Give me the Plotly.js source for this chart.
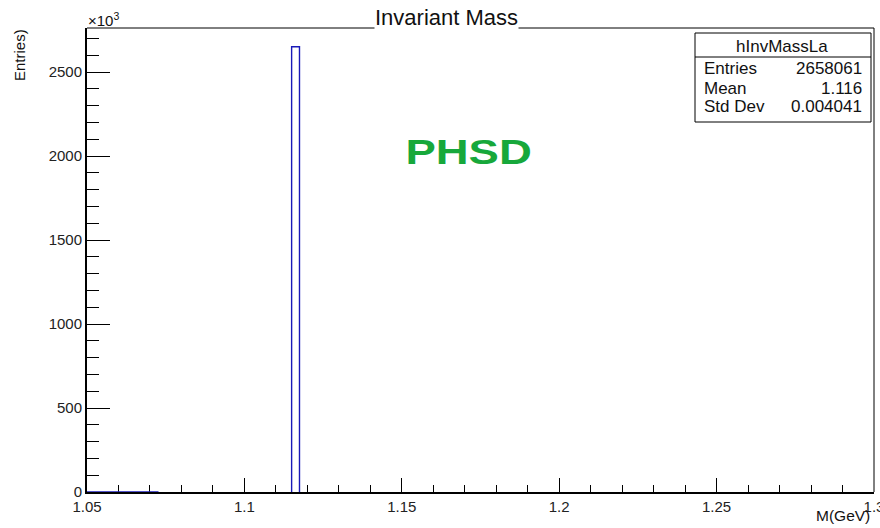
<!DOCTYPE html>
<html>
<head>
<meta charset="utf-8">
<script src="https://cdn.plot.ly/plotly-3.0.1.min.js"></script>
<style>
html,body{margin:0;padding:0;background:#fff;}
#chart{width:880px;height:528px;}
g.annotation[data-index="4"] text.annotation-text{transform-box:fill-box;transform-origin:center;transform:scaleX(1.3);}
</style>
</head>
<body>
<div id="chart"></div>
<script>
// ---- data (counts in units of 10^3 entries) ----
const binWidth = 0.0025;
const binLow = [1.05, 1.0525, 1.055, 1.0575, 1.06, 1.0625, 1.065, 1.0675, 1.07, 1.115];
const binCounts = [0.9, 0.9, 0.9, 0.9, 0.9, 0.9, 0.9, 0.9, 0.9, 2650];
const xTickVals = [1.05, 1.1, 1.15, 1.2, 1.25, 1.3];
const xTickText = ['1.05', '1.1', '1.15', '1.2', '1.25', '1.3'];
const yTickVals = [0, 500, 1000, 1500, 2000, 2500];
const yTickText = ['0', '500', '1000', '1500', '2000', '2500'];
const statsName = 'hInvMassLa';
const statsLabels = ['Entries', 'Mean', 'Std Dev'];
const statsValues = ['2658061', '1.116', '0.004041'];
const chartTitle = 'Invariant Mass';
const xTitle = 'M(GeV)';
const yTitle = 'Entries)';
const tagText = 'PHSD';

// ---- build histogram outline (ROOT-like step) from bins ----
const hx = [], hy = [];
let prevHi = null;
for (let i = 0; i < binLow.length; i++) {
  const lo = binLow[i], hi = lo + binWidth, c = binCounts[i];
  const contiguous = prevHi !== null && Math.abs(lo - prevHi) < 1e-9;
  if (!contiguous) {
    if (prevHi !== null) { hx.push(prevHi); hy.push(0); hx.push(null); hy.push(null); }
    hx.push(lo); hy.push(0);
  }
  hx.push(lo); hy.push(c);
  hx.push(hi); hy.push(c);
  prevHi = hi;
}
if (prevHi !== null) { hx.push(prevHi); hy.push(0); }

// ---- pixel -> paper helpers ----
const L = 87, R = 874, T = 28, B = 492;
const W = 880, H = 528;
const px = x => (x - L) / (R - L);
const py = y => 1 - (y - T) / (B - T);

const font = 'Liberation Sans, Arial, Helvetica, sans-serif';
const ink = '#111';

const trace = {
  x: hx, y: hy, type: 'scatter', mode: 'lines',
  line: {color: '#1a1ab8', width: 1.4, shape: 'linear'},
  hoverinfo: 'skip', showlegend: false, cliponaxis: false
};

const annotations = [
  {text: chartTitle, xref: 'paper', yref: 'paper', x: px(446), y: py(18), xanchor: 'center', yanchor: 'middle',
   showarrow: false, font: {family: font, size: 22, color: ink}, bgcolor: '#fff', borderpad: 0},
  {text: '×10<sup>3</sup>', xref: 'paper', yref: 'paper', x: px(86), y: py(19), xanchor: 'left', yanchor: 'middle',
   showarrow: false, font: {family: font, size: 15, color: ink}},
  {text: yTitle, xref: 'paper', yref: 'paper', x: px(19), y: py(55), xanchor: 'center', yanchor: 'middle', textangle: -90,
   showarrow: false, font: {family: font, size: 15, color: ink}},
  {text: xTitle, xref: 'paper', yref: 'paper', x: px(872), y: py(515), xanchor: 'right', yanchor: 'middle',
   showarrow: false, font: {family: font, size: 15.5, color: ink}},
  {text: '<b>' + tagText + '</b>', xref: 'paper', yref: 'paper', x: px(468), y: py(151), xanchor: 'center', yanchor: 'middle',
   showarrow: false, font: {family: font, size: 35, color: '#17a83b'}},
  {text: statsName, xref: 'paper', yref: 'paper', x: px(782), y: py(46), xanchor: 'center', yanchor: 'middle',
   showarrow: false, font: {family: font, size: 17, color: ink}}
];
const rowY = [68, 88, 107];
for (let i = 0; i < statsLabels.length; i++) {
  annotations.push({text: statsLabels[i], xref: 'paper', yref: 'paper', x: px(702), y: py(rowY[i]), xanchor: 'left', yanchor: 'middle',
    showarrow: false, font: {family: font, size: 17, color: ink}});
  annotations.push({text: statsValues[i], xref: 'paper', yref: 'paper', x: px(864), y: py(rowY[i]), xanchor: 'right', yanchor: 'middle',
    showarrow: false, font: {family: font, size: 17, color: ink}});
}

const shapes = [
  {type: 'line', xref: 'paper', yref: 'paper', x0: 0, x1: 1, y0: 1, y1: 1, line: {color: '#000', width: 1}, layer: 'below'},
  {type: 'line', xref: 'paper', yref: 'paper', x0: 1, x1: 1, y0: 0, y1: 1, line: {color: '#000', width: 1}, layer: 'below'},
  {type: 'rect', xref: 'paper', yref: 'paper', x0: px(695), x1: px(871), y0: py(122), y1: py(33),
   line: {color: '#000', width: 1}, fillcolor: '#fff', layer: 'above'},
  {type: 'line', xref: 'paper', yref: 'paper', x0: px(695), x1: px(871), y0: py(57), y1: py(57),
   line: {color: '#000', width: 1}, layer: 'above'}
];

const layout = {
  width: W, height: H,
  margin: {l: L, r: W - R, t: T, b: H - B, pad: 0},
  paper_bgcolor: '#fff', plot_bgcolor: '#fff',
  showlegend: false,
  font: {family: font, color: ink},
  xaxis: {
    range: [1.05, 1.3], showgrid: false, zeroline: false,
    showline: true, linecolor: '#000', linewidth: 2, layer: 'below traces',
    ticks: 'inside', ticklen: 14, tickwidth: 1, tickcolor: '#000',
    tickmode: 'array', tickvals: xTickVals, ticktext: xTickText,
    ticklabeloverflow: 'allow',
    tickfont: {family: font, size: 15, color: '#222'},
    minor: {dtick: 0.01, ticks: 'inside', ticklen: 7, tickwidth: 1, tickcolor: '#000', showgrid: false},
    fixedrange: true
  },
  yaxis: {
    range: [0, 2762], showgrid: false, zeroline: false,
    showline: true, linecolor: '#000', linewidth: 2, layer: 'below traces',
    ticks: 'inside', ticklen: 23, tickwidth: 1, tickcolor: '#000',
    tickmode: 'array', tickvals: yTickVals, ticktext: yTickText,
    tickfont: {family: font, size: 15, color: '#222'},
    minor: {dtick: 100, ticks: 'inside', ticklen: 12, tickwidth: 1, tickcolor: '#000', showgrid: false},
    fixedrange: true
  },
  shapes: shapes,
  annotations: annotations
};

Plotly.newPlot('chart', [trace], layout, {displayModeBar: false, staticPlot: true});
</script>
</body>
</html>
